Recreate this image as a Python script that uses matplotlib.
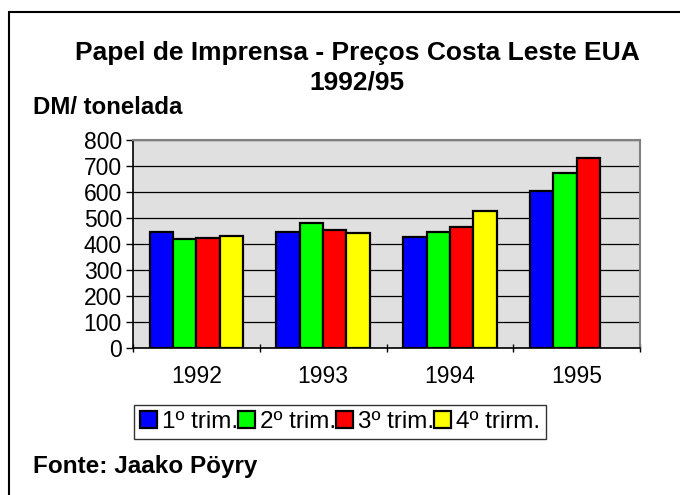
import numpy as np
import matplotlib
matplotlib.use("Agg")
import matplotlib.pyplot as plt
from matplotlib.patches import Rectangle

plt.rcParams["font.family"] = ["Liberation Sans", "DejaVu Sans"]

years = ["1992", "1993", "1994", "1995"]
series_labels = ["1º trim.", "2º trim.", "3º trim.", "4º trirm."]
q1 = [447, 447, 428, 604]
q2 = [418, 482, 447, 674]
q3 = [422, 454, 466, 730]
q4 = [432, 443, 528, np.nan]
colors = ["#0000ff", "#00ff00", "#ff0000", "#ffff00"]
yticks = [0, 100, 200, 300, 400, 500, 600, 700, 800]

W, H = 680, 495
fig = plt.figure(figsize=(W / 100, H / 100), dpi=100)
ax = fig.add_axes([133 / W, 1 - 348 / H, (640 - 133) / W, (348 - 140) / H])
ax.set_facecolor("#e0e0e0")

x = np.arange(len(years))
bw = 0.184
offsets = (np.arange(4) - 1.5) * bw
handles = []
for i, vals in enumerate([q1, q2, q3, q4]):
    b = ax.bar(x + offsets[i], vals, bw, color=colors[i], edgecolor="black",
               linewidth=1.6, zorder=3, label=series_labels[i])
    handles.append(b)

ax.set_xlim(-0.5, 3.5)
ax.set_ylim(0, 800)
ax.set_yticks(yticks)
ax.set_yticklabels([str(v) for v in yticks], fontsize=16.5)
ax.yaxis.grid(True, color="black", linewidth=0.9, zorder=1)
ax.set_axisbelow(True)

ax.set_xticks(x)
ax.set_xticklabels(years, fontsize=16.5)
ax.tick_params(axis="x", which="major", length=0, pad=12)
ax.set_xticks(np.arange(-0.5, 4, 1), minor=True)
ax.tick_params(axis="x", which="minor", length=6, width=1, direction="inout", color="black")
ax.tick_params(axis="y", length=5, width=1, direction="out", color="black", pad=3)

for s in ["top", "right"]:
    ax.spines[s].set_color("#808080")
    ax.spines[s].set_linewidth(1.5)
for s in ["left", "bottom"]:
    ax.spines[s].set_color("black")
    ax.spines[s].set_linewidth(1.2)

leg = fig.legend(handles=handles, loc="center", bbox_to_anchor=(340 / W, 1 - 422 / H),
                 ncol=4, fontsize=17.5, frameon=True, fancybox=False, edgecolor="black",
                 handlelength=0.7, handleheight=0.7, handletextpad=0.2, columnspacing=0.0,
                 borderpad=0.25, borderaxespad=0)
leg.get_frame().set_linewidth(1.0)

fig.text(357 / W, 1 - 53 / H, "Papel de Imprensa - Preços Costa Leste EUA",
         ha="center", va="center", fontsize=19, fontweight="bold")
fig.text(357 / W, 1 - 82 / H, "1992/95", ha="center", va="center", fontsize=19, fontweight="bold")
fig.text(33 / W, 1 - 107 / H, "DM/ tonelada", ha="left", va="center", fontsize=17.3, fontweight="bold")
fig.text(33 / W, 1 - 466 / H, "Fonte: Jaako Pöyry", ha="left", va="center", fontsize=17.5, fontweight="bold")

fig.add_artist(Rectangle((9 / W, -0.1), 1.2, 1 - 12 / H + 0.1, transform=fig.transFigure,
                         fill=False, edgecolor="black", linewidth=1.5))

fig.savefig("out.png", dpi=100)
